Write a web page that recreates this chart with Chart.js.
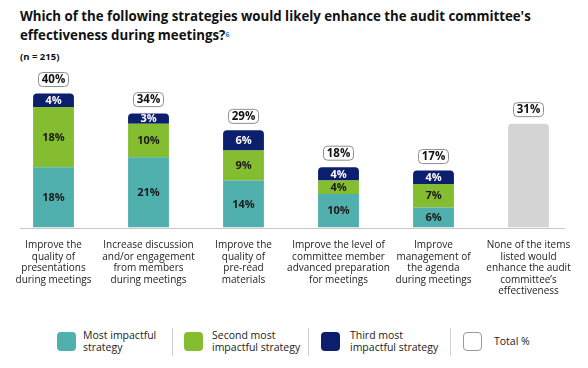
<!DOCTYPE html>
<html>
<head>
<meta charset="utf-8">
<script src="https://cdn.jsdelivr.net/npm/chart.js@4/dist/chart.umd.min.js"></script>
<style>
  html, body { margin:0; padding:0; background:#fff; }
  body { width:588px; height:368px; position:relative; overflow:hidden; font-family:"Open Sans", sans-serif; color:#111; }
  #title { position:absolute; left:20px; top:7px; font-weight:700; font-size:14px; line-height:19px; white-space:nowrap; color:#111; }
  #title sup { color:#2f7fc1; font-size:7px; vertical-align:top; position:relative; top:-1px; }
  #n { position:absolute; left:20px; top:50px; font-weight:700; font-size:9.5px; color:#111; }
  #wrap { position:absolute; left:0; top:0; width:588px; height:312px; }
  .sw { position:absolute; width:19px; height:19px; border-radius:4px; box-sizing:border-box; }
  .lt { position:absolute; font-size:10.5px; line-height:12px; color:#222; white-space:nowrap; }
  .sep { position:absolute; width:1px; background:#cfcfcf; top:328px; height:28px; }
</style>
</head>
<body>
<div id="title">Which of the following strategies would likely enhance the audit committee's<br>effectiveness during meetings?<sup>6</sup></div>
<div id="n">(n = 215)</div>
<div id="wrap"><canvas id="c"></canvas></div>
<div id="legend"></div>
<script>
const categories = [
  ["Improve the","quality of","presentations","during meetings"],
  ["Increase discussion","and/or engagement","from members","during meetings"],
  ["Improve the","quality of","pre-read","materials"],
  ["Improve the level of","committee member","advanced preparation","for meetings"],
  ["Improve","management of","the agenda","during meetings"],
  ["None of the items","listed would","enhance the audit","committee\u2019s","effectiveness"]
];
const mostImpactful   = [18, 21, 14, 10, 6, null];
const secondImpactful = [18, 10, 9, 4, 7, null];
const thirdImpactful  = [4, 3, 6, 4, 4, null];
const totalOnly       = [null, null, null, null, null, 31];
const totals          = [40, 34, 29, 18, 17, 31];
const legendLabels = [["Most impactful","strategy"],["Second most","impactful strategy"],["Third most","impactful strategy"],["Total %"]];

const COLORS = { teal:"#4fb0ae", green:"#84bd2f", navy:"#0c1f6e", gray:"#d4d4d4" };

(function(){
  const t = document.getElementById('title');
  const m = document.createElement('canvas').getContext('2d');
  m.font = '700 14px "Open Sans"';
  const w = m.measureText("Which of the following strategies would likely enhance the audit committee's").width;
  t.style.fontSize = (14 * 511 / w).toFixed(2) + 'px';
})();

(function(){
  const L = document.getElementById('legend');
  const items = [
    {sw:57, tx:83, color:COLORS.teal},
    {sw:184, tx:212, color:COLORS.green},
    {sw:321, tx:350, color:COLORS.navy},
    {sw:463, tx:494, color:"#fff", border:true}
  ];
  const seps = [172, 308, 450];
  items.forEach((it,i)=>{
    const s = document.createElement('div');
    s.className='sw'; s.style.left=it.sw+'px'; s.style.top='332px'; s.style.background=it.color;
    if (it.border) s.style.border='1.5px solid #9a9a9a';
    L.appendChild(s);
    const t = document.createElement('div');
    t.className='lt'; t.style.left=it.tx+'px';
    const lines = legendLabels[i];
    t.style.top = (lines.length===1 ? 335 : 329)+'px';
    t.innerHTML = lines.join('<br>');
    L.appendChild(t);
  });
  seps.forEach(x=>{ const d=document.createElement('div'); d.className='sep'; d.style.left=x+'px'; L.appendChild(d); });
})();

const baselinePlugin = {
  id:'baseline',
  beforeDatasetsDraw(chart){
    const {ctx, scales:{y}} = chart;
    const yy = Math.round(y.getPixelForValue(0)) + 0.5;
    ctx.save(); ctx.strokeStyle='#c8c8c8'; ctx.lineWidth=1;
    ctx.beginPath(); ctx.moveTo(20, yy); ctx.lineTo(565, yy); ctx.stroke(); ctx.restore();
  }
};

const labelPlugin = {
  id:'segLabels',
  afterDatasetsDraw(chart){
    const ctx = chart.ctx;
    ctx.save();
    ctx.font = '700 11px "Open Sans"';
    ctx.textAlign='center'; ctx.textBaseline='middle';
    [0,1,2].forEach(di=>{
      const meta = chart.getDatasetMeta(di);
      const ds = chart.data.datasets[di];
      meta.data.forEach((bar,i)=>{
        const v = ds.data[i];
        if (v==null) return;
        ctx.fillStyle = di===2 ? '#ffffff' : '#1a1a1a';
        ctx.fillText(v+'%', bar.x, (bar.y+bar.base)/2 + 0.5);
      });
    });
    const xs = chart.scales.x, ys = chart.scales.y;
    ctx.font = '700 11.5px "Open Sans"';
    totals.forEach((t,i)=>{
      const x = xs.getPixelForValue(i);
      const top = ys.getPixelForValue(t);
      const w = 30, h = 14, cy = top - 14;
      ctx.beginPath();
      ctx.roundRect(x - w/2, cy - h/2, w, h, 4);
      ctx.fillStyle='#fff'; ctx.fill();
      ctx.strokeStyle='#8f8f8f'; ctx.lineWidth=1; ctx.stroke();
      ctx.fillStyle='#111';
      ctx.fillText(t+'%', x, cy + 0.5);
    });
    ctx.restore();
  }
};

new Chart(document.getElementById('c'), {
  type:'bar',
  data:{
    labels: categories,
    datasets:[
      {label:'Most impactful strategy', data:mostImpactful, backgroundColor:COLORS.teal},
      {label:'Second most impactful strategy', data:secondImpactful, backgroundColor:COLORS.green},
      {label:'Third most impactful strategy', data:thirdImpactful, backgroundColor:COLORS.navy},
      {label:'Total %', data:totalOnly, backgroundColor:COLORS.gray}
    ]
  },
  options:{
    responsive:true, maintainAspectRatio:false, animation:false,
    datasets:{ bar:{ barPercentage:0.86, categoryPercentage:0.5, borderRadius:4, borderSkipped:'start' } },
    layout:{ padding:{ left:6, right:12, top:60, bottom:3 } },
    plugins:{ legend:{display:false}, tooltip:{enabled:false} },
    scales:{
      x:{ stacked:true, grid:{display:false, drawTicks:false}, border:{display:false},
          ticks:{ color:'#222', font:{family:'"Open Sans"', size:10, lineHeight:1.15}, padding:12, maxRotation:0, autoSkip:false } },
      y:{ stacked:true, display:false, min:0, max:50 }
    }
  },
  plugins:[baselinePlugin, labelPlugin]
});
</script>
</body>
</html>
